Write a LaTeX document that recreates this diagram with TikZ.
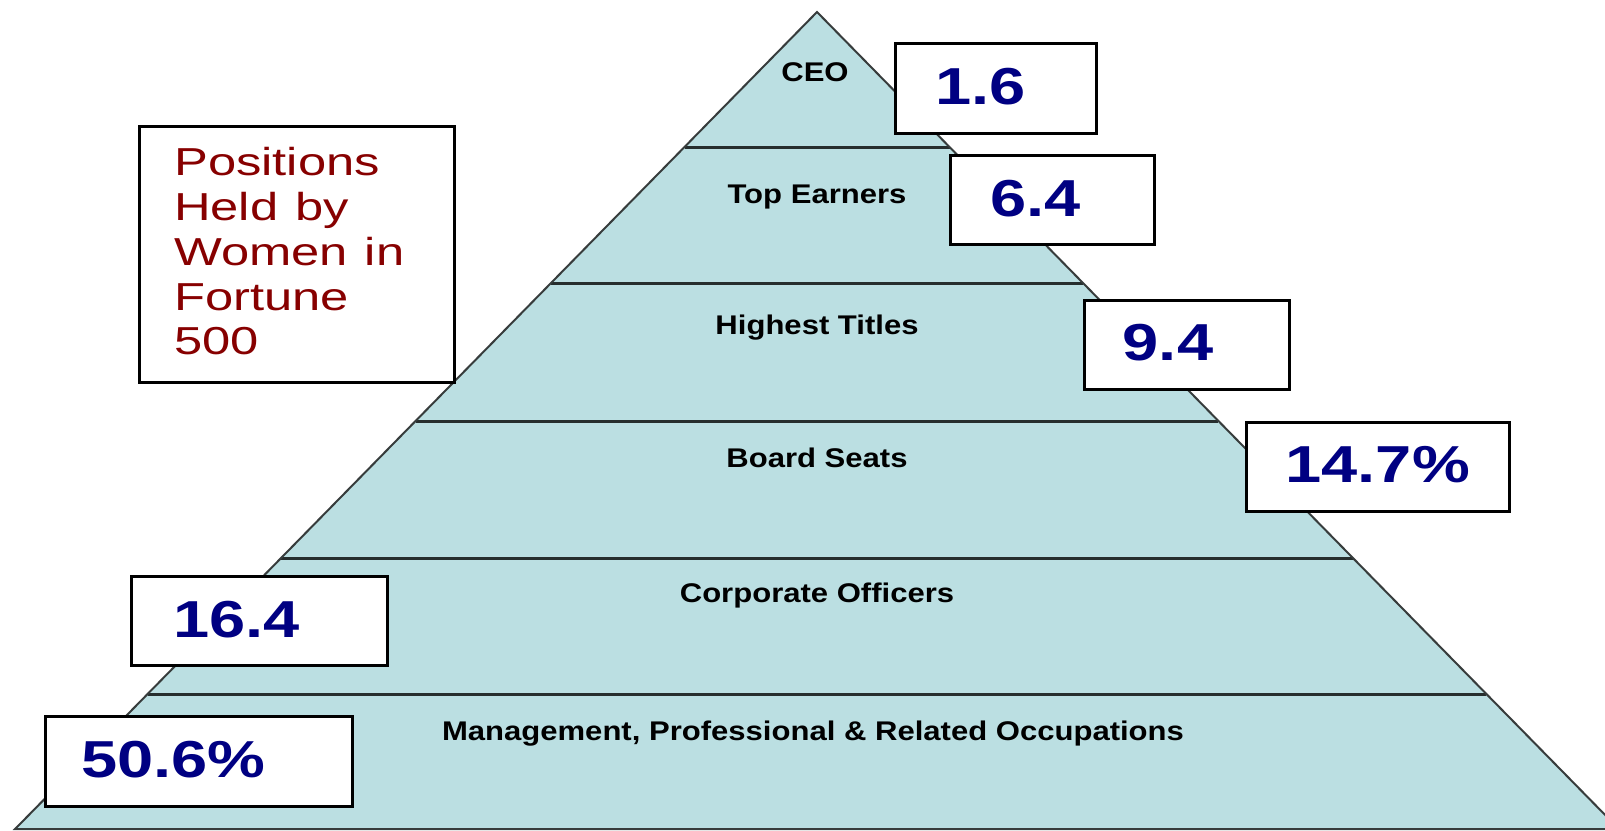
\documentclass[tikz,border=0pt]{standalone}
\usepackage{fontspec}
\setmainfont{Liberation Sans}
\usetikzlibrary{calc}
\definecolor{pyrfill}{RGB}{187,223,226}
\definecolor{divcol}{RGB}{38,46,46}
\definecolor{edgecol}{RGB}{55,60,60}
\definecolor{titlered}{RGB}{135,0,0}
\definecolor{numnavy}{RGB}{0,0,130}
\newcommand\lvltext[1]{\scalebox{1.15}[1]{#1}}
\newcommand\numtext[1]{\scalebox{1.25}[1]{#1}}
\newcommand\posline[1]{\scalebox{1.3}[1]{#1}}
\begin{document}
\begin{tikzpicture}[x=1pt,y=-1pt,
  lvl/.style={anchor=base, inner sep=0pt, text=black,
    font=\fontsize{27}{30}\selectfont\bfseries},
  divider/.style={draw=divcol, line width=3pt},
  pyredge/.style={draw=edgecol, line width=2pt, line join=miter},
  numbox/.style={draw=black, line width=3pt, fill=white, anchor=north west,
    inner ysep=0pt, align=left, text=numnavy, text depth=4pt,
    font=\fontsize{52}{60}\selectfont\bfseries},
  titlebox/.style={draw=black, line width=3pt, fill=white, anchor=north west,
    inner ysep=0pt, inner xsep=35pt, align=left, text=titlered,
    text height=28.5pt, text depth=186pt,
    font=\fontsize{39}{44.75}\selectfont}
]
\useasboundingbox (0,0) rectangle (1605,830);
\clip (0,0) rectangle (1605,830);
\fill[white] (0,0) rectangle (1605,830);

% pyramid
\coordinate (apex) at (817,12);
\coordinate (bl) at (15.1,829);
\coordinate (br) at (1618.9,829);
\fill[pyrfill] (apex) -- (bl) -- (br) -- cycle;
\foreach \f in {0.16524,0.33170,0.50061,0.66830,0.83476}{
  \draw[divider] ($(apex)!\f!(bl)$) -- ($(apex)!\f!(br)$);
}
\draw[pyredge] (apex) -- (bl) -- (br) -- cycle;

% level labels
\node[lvl] (lceo) at (815,81) {\lvltext{CEO}};
\node[lvl] (ltop) at (817,203) {\lvltext{Top Earners}};
\node[lvl] (lhigh) at (817,334) {\lvltext{Highest Titles}};
\node[lvl] (lboard) at (817,467) {\lvltext{Board Seats}};
\node[lvl] (lcorp) at (817,602) {\lvltext{Corporate Officers}};
\node[lvl] (lmgmt) at (813,740) {\lvltext{Management, Professional \& Related Occupations}};

% value boxes
\node[numbox, inner xsep=40pt, text width=121pt, minimum height=89.5pt] (b16) at (894,42) {\numtext{1.6}};
\node[numbox, inner xsep=40pt, text width=124pt, minimum height=89.5pt] (b64) at (949,153.7) {\numtext{6.4}};
\node[numbox, inner xsep=38pt, text width=129pt, minimum height=89pt] (b94) at (1083.3,298.8) {\numtext{9.4}};
\node[numbox, inner xsep=39pt, text width=184.7pt, minimum height=89pt] (b147) at (1245,420.8) {\numtext{14.7\%}};
\node[numbox, inner xsep=42pt, text width=172pt, minimum height=89.5pt] (b164) at (130,574.7) {\numtext{16.4}};
\node[numbox, inner xsep=36pt, text width=234.7pt, minimum height=90pt] (b506) at (44,715.2) {\numtext{50.6\%}};

% title box
\node[titlebox, text width=245.3pt, minimum height=256pt] (title) at (137.7,125)
  {\posline{Positions}\\\posline{Held by}\\\posline{Women in}\\\posline{Fortune}\\\posline{500}};
\end{tikzpicture}
\end{document}
